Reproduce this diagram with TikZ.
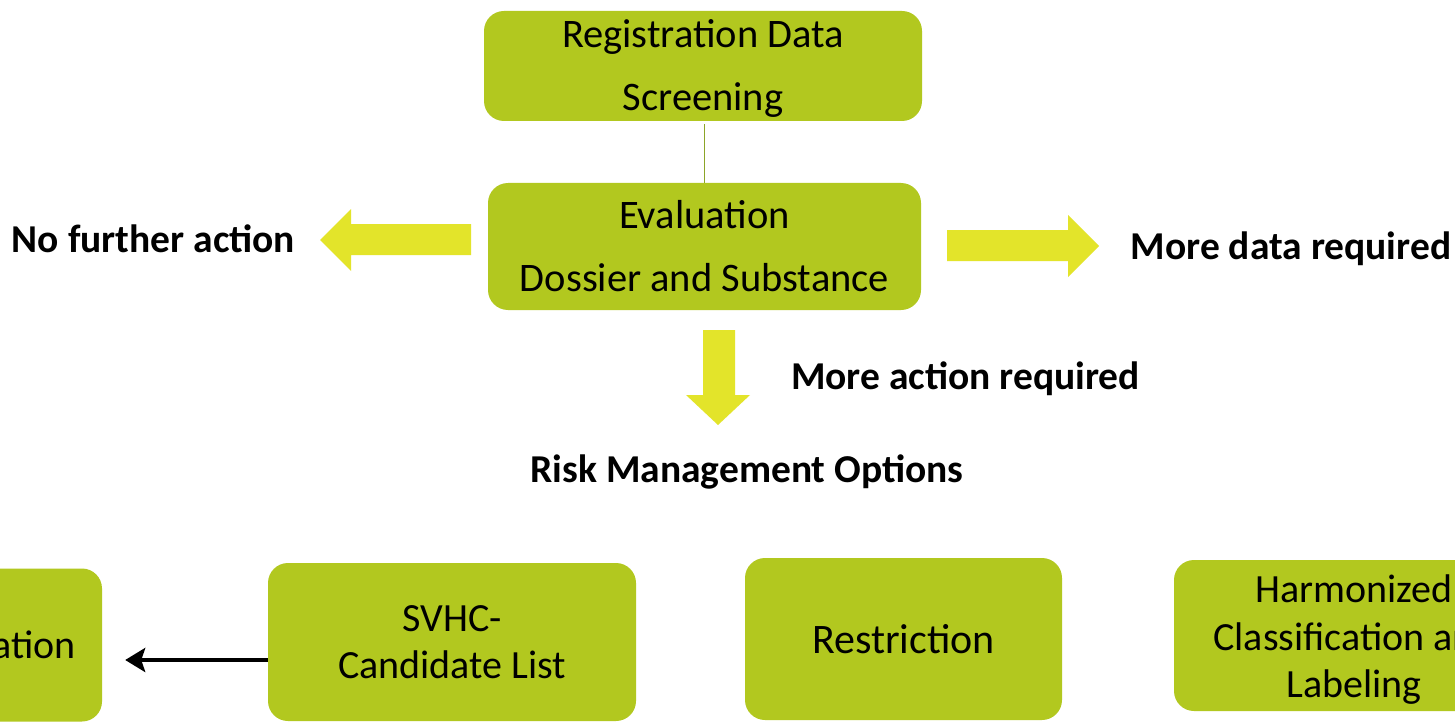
\documentclass[tikz,border=0pt]{standalone}
\usepackage{fontspec}
\setmainfont{Carlito}
\usetikzlibrary{arrows.meta,calc}
\definecolor{boxgreen}{RGB}{178,200,31}
\definecolor{arrowyellow}{RGB}{227,228,42}
\definecolor{linkolive}{RGB}{140,165,40}
\tikzset{
  greenbox/.style={fill=boxgreen, draw=none, rounded corners=20pt, align=center, inner sep=0pt},
  toptext/.style={font=\fontsize{40.5}{63}\selectfont},
  bottext/.style={font=\fontsize{40}{47.5}\selectfont},
  boldlabel/.style={font=\bfseries\fontsize{39.5}{44}\selectfont, inner sep=0pt},
  blockarrow/.style={fill=arrowyellow, draw=none},
  blackarrow/.style={draw=black, line width=4.5pt, -{Stealth[length=20pt,width=24pt,inset=4pt]}}
}
\begin{document}
\begin{tikzpicture}[x=1pt,y=-1pt]
\clip (0,0) rectangle (1455,722);
\fill[white] (0,0) rectangle (1455,722);
% top boxes
\node[greenbox, toptext, minimum width=438pt, minimum height=110pt, text height=0pt, text depth=0pt] (screen) at (703,66) {};
\node[toptext, align=center, inner sep=0pt] (screentext) at (703,68) {Registration Data\\Screening};
\node[greenbox, toptext, minimum width=433pt, minimum height=127pt] (eval) at (704.5,246.5) {Evaluation\\Dossier and Substance};
\draw[linkolive, line width=1.5pt] ([yshift=-3pt]eval.north |- screen.south) -- (eval.north);
% block arrows
\fill[blockarrow] (471,224) -- (351,224) -- (351,209) -- (320,240) -- (351,271) -- (351,255) -- (471,255) -- cycle;
\fill[blockarrow] (947,230) -- (1068,230) -- (1068,215) -- (1099,246) -- (1068,277) -- (1068,261) -- (947,261) -- cycle;
\fill[blockarrow] (703,330) -- (735,330) -- (735,395) -- (750,395) -- (718,425) -- (686,395) -- (703,395) -- cycle;
% labels
\node[boldlabel] (nofurther) at (153.5,239) {No further action};
\node[boldlabel] (moredata) at (1291,249) {More data required};
\node[boldlabel] (moreaction) at (965.5,379) {More action required};
\node[boldlabel] (rmo) at (747,472) {Risk Management Options};
% bottom boxes
\node[greenbox, bottext, minimum width=274pt, minimum height=153pt] (auth) at (-35,645) {Authorization};
\node[greenbox, bottext, minimum width=368pt, minimum height=158pt] (svhc) at (452,642) {SVHC-\\Candidate List};
\node[greenbox, font=\fontsize{42}{48}\selectfont, minimum width=317pt, minimum height=162pt] (restr) at (903.5,639) {Restriction};
\node[greenbox, minimum width=360pt, minimum height=151pt] (harm) at (1354,635.5) {};
\node[bottext, align=center, inner sep=0pt] (harmtext) at (1354,640) {Harmonized\\Classification and\\Labeling};
\draw[blackarrow, shorten >=23pt] ([yshift=-18pt]svhc.west) -- ([yshift=-18pt]svhc.west -| auth.east);
\end{tikzpicture}
\end{document}
